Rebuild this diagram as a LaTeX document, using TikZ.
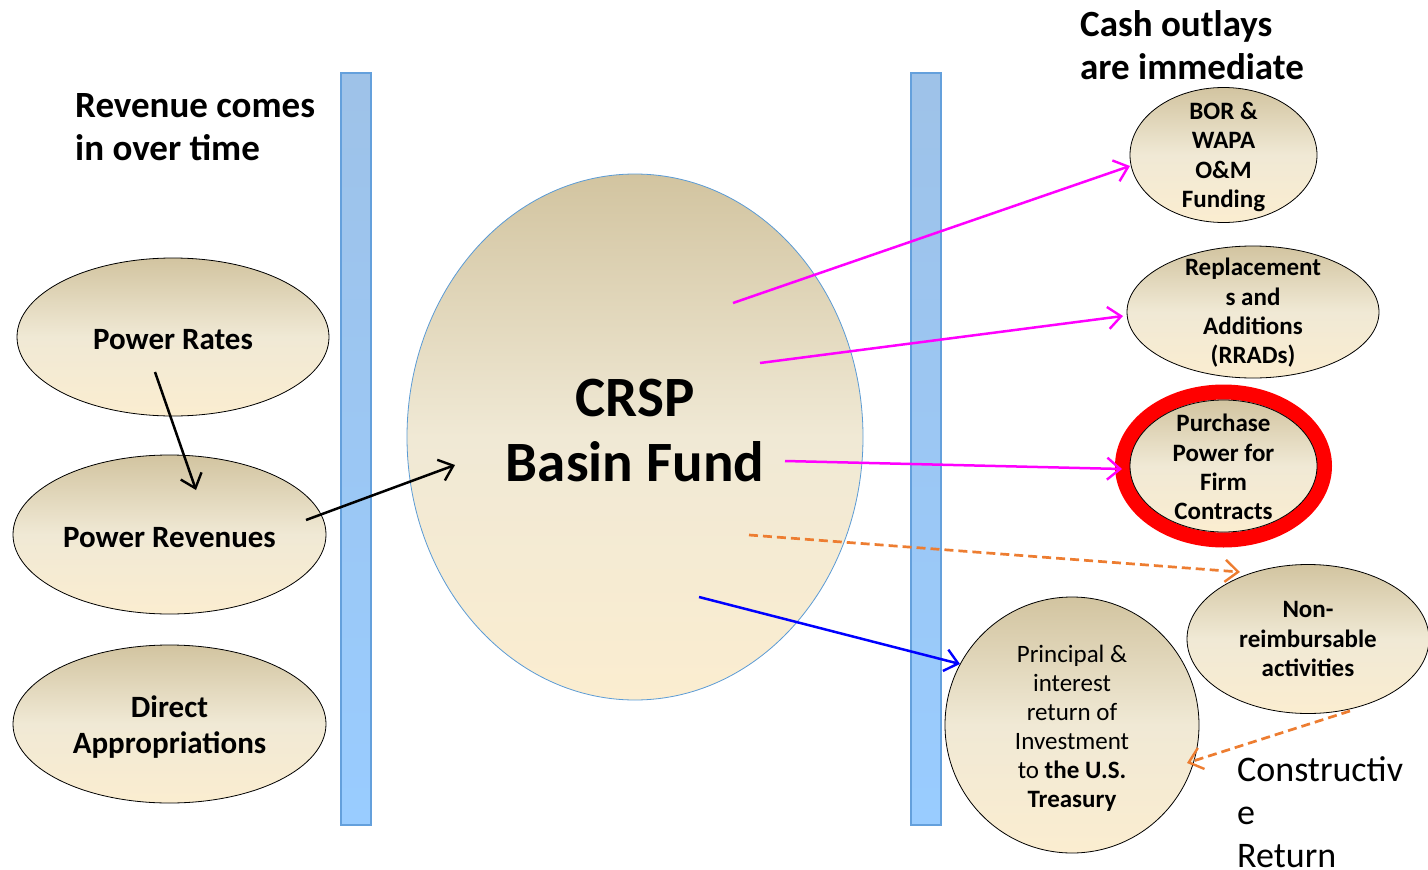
\documentclass[tikz,border=0pt]{standalone}
\usepackage{fontspec}
\setmainfont{Carlito}
\usetikzlibrary{arrows.meta,shapes.geometric}
\definecolor{tanTop}{RGB}{210,196,160}
\definecolor{tanMid}{RGB}{240,233,213}
\definecolor{tanBot}{RGB}{251,237,208}
\definecolor{barTop}{RGB}{158,194,232}
\definecolor{barBot}{RGB}{153,204,255}
\definecolor{barEdge}{RGB}{100,160,220}
\definecolor{crspEdge}{RGB}{91,155,213}
\definecolor{mag}{RGB}{255,0,255}
\definecolor{orng}{RGB}{237,125,49}
\begin{document}
\begin{tikzpicture}[x=1pt,y=-1pt,
  oval/.style={ellipse, draw=black, line width=0.8pt, inner sep=0pt,
    top color=tanTop, bottom color=tanBot, middle color=tanMid},
  lbl/.style={align=center, inner sep=0pt, font=\bfseries\fontsize{25}{29.3}\selectfont},
  biglbl/.style={align=center, inner sep=0pt, yshift=-3pt, font=\bfseries\fontsize{31}{36}\selectfont},
  bar/.style={draw=barEdge, line width=1.2pt, top color=barTop, bottom color=barBot},
  title/.style={anchor=north west, inner sep=0pt, align=left, font=\bfseries\fontsize{37}{43}\selectfont},
  arr/.style={line width=2.5pt, -{Straight Barb[length=13pt,width=22pt,line width=2.4pt]}},
  dsh/.style={arr, orng, line width=2.7pt, dash pattern=on 9pt off 5pt}
]
\useasboundingbox (0,0) rectangle (1428,870);
% bars
\path[bar] (341,73) rectangle (371,825);
\path[bar] (911,73) rectangle (941,825);
% left ellipses
\node[oval, minimum width=312pt, minimum height=158pt,
  label={[biglbl]center:{Power Rates}}] (rates) at (173,337) {};
\node[oval, minimum width=313pt, minimum height=159pt,
  label={[biglbl]center:{Power Revenues}}] (revs) at (169.5,534.5) {};
\node[oval, minimum width=313pt, minimum height=158pt,
  label={[biglbl]center:{Direct\\Appropriations}}] (direct) at (169.5,724) {};
% central fund
\node[ellipse, draw=crspEdge, line width=0.8pt, inner sep=0pt,
  top color=tanTop, bottom color=tanBot, middle color=tanMid,
  minimum width=456pt, minimum height=526pt] (crsp) at (635,437) {};
\node[align=center, inner sep=0pt, font=\bfseries\fontsize{57}{65}\selectfont] (crsptext) at (635,431) {CRSP\\Basin Fund};
% right side
\node[oval, minimum width=187pt, minimum height=135pt,
  label={[lbl, yshift=-2pt]center:{BOR \&\\WAPA\\O\&M\\Funding}}] (bor) at (1223.5,155) {};
\node[oval, minimum width=252pt, minimum height=132pt,
  label={[lbl, yshift=-1pt]center:{Replacement\\s and\\Additions\\(RRADs)}}] (rrad) at (1253,312) {};
\draw[red, line width=15pt] (1223.5,466) ellipse [x radius=101, y radius=74];
\node[oval, minimum width=187pt, minimum height=132pt,
  label={[lbl, yshift=-1pt]center:{Purchase\\Power for\\Firm\\Contracts}}] (purch) at (1223.5,466) {};
\node[oval, minimum width=242pt, minimum height=149pt,
  label={[lbl]center:{Non-\\reimbursable\\activities}}] (nonr) at (1308,639) {};
\node[oval, minimum width=254pt, minimum height=256pt,
  label={[lbl, yshift=-3pt, font=\fontsize{25}{29}\selectfont]center:{Principal \&\\interest\\return of\\Investment\\to \textbf{the U.S.}\\\textbf{Treasury}}}] (treas) at (1072,725) {};
% titles
\node[title] (revtitle) at (75,93) {Revenue comes\\in over time};
\node[title] (cashtitle) at (1080,10) {Cash outlays\\are immediate};
\node[title, font=\fontsize{36}{43}\selectfont] (constr) at (1237,756) {Constructiv\\e\\Return};
% connector endpoints
\coordinate (r1) at (155,372);
\coordinate (r2) at (196,490);
\coordinate (v1) at (306,520);
\coordinate (c0) at (455,465);
\coordinate (c1) at (733,303);
\coordinate (b1) at (1130,166);
\coordinate (c2) at (760,363);
\coordinate (b2) at (1123,316);
\coordinate (c3) at (785,461);
\coordinate (b3) at (1122,469);
\coordinate (c4) at (749,535);
\coordinate (b4) at (1240,572);
\coordinate (c5) at (699,597);
\coordinate (b5) at (960,664);
\coordinate (n1) at (1350,711);
\coordinate (t1) at (1187,763);
% connectors
\draw[arr, black] (r1) -- (r2);
\draw[arr, black] (v1) -- (c0);
\draw[arr, mag] (c1) -- (b1);
\draw[arr, mag] (c2) -- (b2);
\draw[arr, mag] (c3) -- (b3);
\draw[dsh] (c4) -- (b4);
\draw[arr, blue] (c5) -- (b5);
\draw[dsh] (n1) -- (t1);
\end{tikzpicture}
\end{document}
